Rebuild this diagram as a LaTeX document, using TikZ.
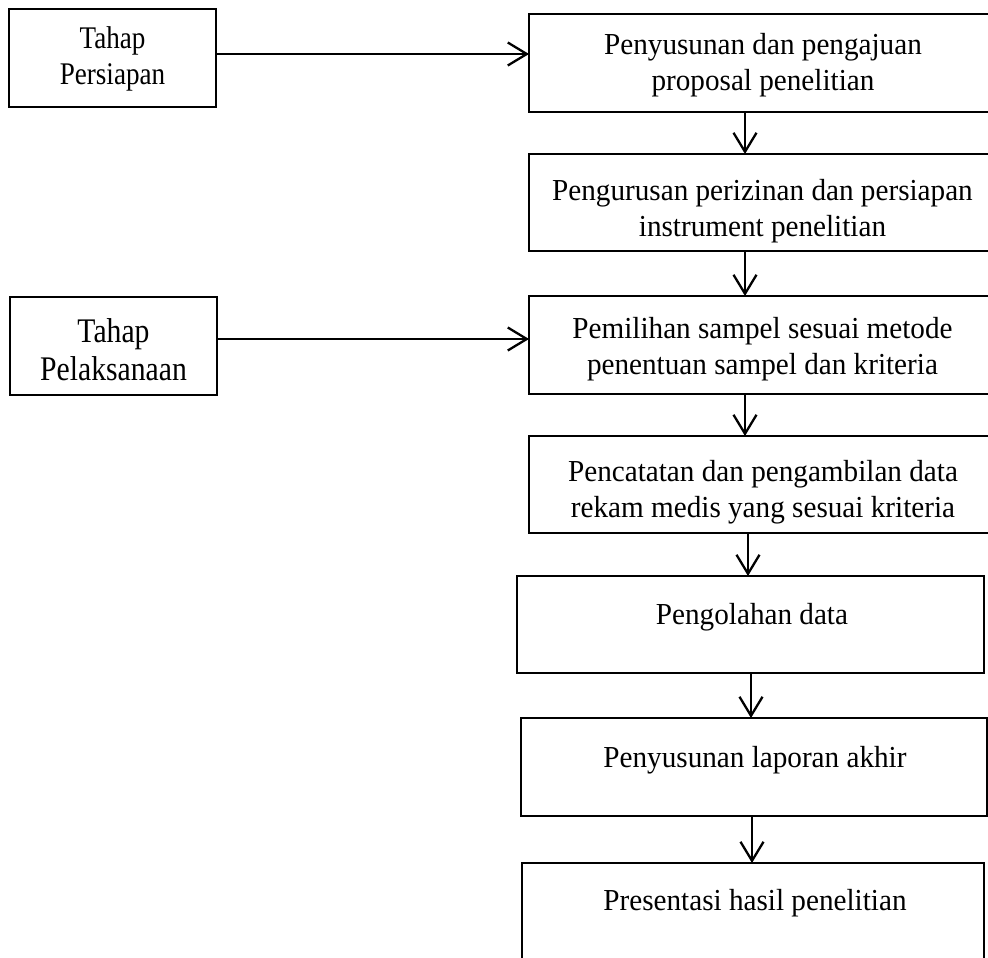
\documentclass[tikz,border=0pt]{standalone}
\usepackage{fontspec}
\newfontfamily\mainf[FakeStretch=0.957]{Liberation Serif}
\newfontfamily\lfa[FakeStretch=0.86]{Liberation Serif}
\usetikzlibrary{arrows.meta}
\begin{document}
\begin{tikzpicture}[x=1pt,y=-1pt,
  boxst/.style={draw=black,line width=2.8pt,rectangle,inner sep=0pt,outer sep=0pt},
  txt/.style={align=center,inner sep=0pt,text=black,font=\mainf\fontsize{30.5}{36.5}\selectfont},
  arr/.style={line width=2.3pt,-{Straight Barb[length=19pt,width=23pt]}}]
\useasboundingbox (0,0) rectangle (988,958);
\fill[white] (0,0) rectangle (988,958);
% boxes
\node[boxst,minimum width=207pt,minimum height=98pt] (L1) at (112.5,58) {};
\node[boxst,minimum width=207pt,minimum height=98pt] (L2) at (113.5,346) {};
\node[boxst,minimum width=468pt,minimum height=98pt] (B1) at (763,63) {};
\node[boxst,minimum width=468pt,minimum height=97pt] (B2) at (763,202.5) {};
\node[boxst,minimum width=468pt,minimum height=98pt] (B3) at (763,345) {};
\node[boxst,minimum width=468pt,minimum height=97pt] (B4) at (763,484.5) {};
\node[boxst,minimum width=467pt,minimum height=97pt] (B5) at (750.5,624.5) {};
\node[boxst,minimum width=466pt,minimum height=98pt] (B6) at (754,767) {};
\node[boxst,minimum width=462pt,minimum height=98pt] (B7) at (753,912) {};
% texts
\node[txt,font=\lfa\fontsize{31.5}{36}\selectfont] (tL1) at (112.5,58.5) {Tahap\\Persiapan};
\node[txt,font=\lfa\fontsize{34.5}{38}\selectfont] (tL2) at (113.5,350) {Tahap\\Pelaksanaan};
\node[txt] (t1) at (763,65) {Penyusunan dan pengajuan\\proposal penelitian};
\node[txt] (t2) at (762.5,211) {Pengurusan perizinan dan persiapan\\instrument penelitian\vphantom{p}};
\node[txt] (t3) at (762.5,349) {Pemilihan sampel sesuai metode\\penentuan sampel dan kriteria};
\node[txt] (t4) at (763,492) {Pencatatan dan pengambilan data\\rekam medis yang sesuai kriteria};
\node[txt] (t5) at (752,617) {Pengolahan data};
\node[txt] (t6) at (755,760) {Penyusunan laporan akhir};
\node[txt] (t7) at (755,903) {Presentasi hasil penelitian};
% connector guides
\coordinate (h1) at (0,54);
\coordinate (h2) at (0,339);
\coordinate (v1) at (745,0);
\coordinate (v2) at (748,0);
\coordinate (v3) at (751,0);
\coordinate (v4) at (752,0);
% connectors
\draw[arr] (L1.east |- h1) -- (B1.west |- h1);
\draw[arr] (L2.east |- h2) -- (B3.west |- h2);
\draw[arr] (B1.south -| v1) -- (B2.north -| v1);
\draw[arr] (B2.south -| v1) -- (B3.north -| v1);
\draw[arr] (B3.south -| v1) -- (B4.north -| v1);
\draw[arr] (B4.south -| v2) -- (B5.north -| v2);
\draw[arr] (B5.south -| v3) -- (B6.north -| v3);
\draw[arr] (B6.south -| v4) -- (B7.north -| v4);
\end{tikzpicture}
\end{document}
